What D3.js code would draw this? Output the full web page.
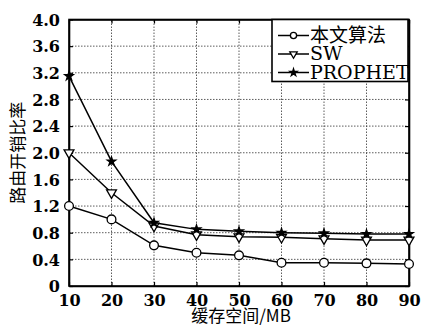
<!DOCTYPE html>
<html>
<head>
<meta charset="utf-8">
<script src="https://cdn.jsdelivr.net/npm/d3@7"></script>
<style>
  body { margin: 0; background: #fff; }
  svg { display: block; }
</style>
</head>
<body>
<svg id="chart"></svg>
<script>
const width = 422;
const height = 327;

// 缓存空间 (MB)
const bufferSizes = [10, 20, 30, 40, 50, 60, 70, 80, 90];
const oursValues = [1.2, 1.0, 0.61, 0.5, 0.46, 0.35, 0.35, 0.34, 0.33];
const swValues = [2.0, 1.4, 0.9, 0.77, 0.74, 0.73, 0.71, 0.69, 0.69];
const prophetValues = [3.15, 1.87, 0.95, 0.85, 0.82, 0.8, 0.79, 0.78, 0.78];
const seriesNames = ["本文算法", "SW", "PROPHET"];
const yTicks = [0, 0.4, 0.8, 1.2, 1.6, 2.0, 2.4, 2.8, 3.2, 3.6, 4.0];

const margin = { top: 19.5, right: 13, bottom: 41, left: 69 };
const serif = "DejaVu Serif";
const cjk = "Noto Sans CJK SC";

const svg = d3.select("#chart").attr("width", width).attr("height", height);

const x = d3.scaleLinear().domain([10, 90]).range([margin.left, width - margin.right]);
const y = d3.scaleLinear().domain([0, 4]).range([height - margin.bottom, margin.top]);

// 网格
svg.append("g")
  .selectAll("line")
  .data(yTicks.slice(1, -1))
  .join("line")
  .attr("x1", x(10)).attr("x2", x(90))
  .attr("y1", (d) => y(d)).attr("y2", (d) => y(d))
  .attr("stroke", "#333").attr("stroke-width", 0.8).attr("stroke-dasharray", "1.5,1.5");

svg.append("g")
  .selectAll("line")
  .data(bufferSizes.slice(1, -1))
  .join("line")
  .attr("x1", (d) => x(d)).attr("x2", (d) => x(d))
  .attr("y1", y(0)).attr("y2", y(4))
  .attr("stroke", "#333").attr("stroke-width", 0.8).attr("stroke-dasharray", "1.5,1.5");

// 坐标轴
const xAxis = svg.append("g")
  .attr("transform", `translate(0,${y(0)})`)
  .call(d3.axisBottom(x).tickValues(bufferSizes).tickSizeInner(-4).tickSizeOuter(0));
xAxis.selectAll("text")
  .attr("y", 19.5).attr("dy", null)
  .style("font-family", serif).style("font-size", "16px").style("font-weight", "bold")
  .attr("fill", "#000");

const yAxis = svg.append("g")
  .attr("transform", `translate(${margin.left},0)`)
  .call(d3.axisLeft(y).tickValues(yTicks).tickFormat((d) => (d === 0 ? "0" : d3.format(".1f")(d))).tickSizeInner(-4).tickSizeOuter(0));
yAxis.selectAll("text")
  .attr("x", -9).attr("dy", "0.36em")
  .style("font-family", serif).style("font-size", "16px").style("font-weight", "bold")
  .attr("fill", "#000");

svg.append("g")
  .attr("transform", `translate(${x(90)},0)`)
  .call(d3.axisRight(y).tickValues(yTicks).tickSizeInner(-4).tickSizeOuter(0).tickFormat(""));
svg.append("g")
  .attr("transform", `translate(0,${y(4)})`)
  .call(d3.axisTop(x).tickValues(bufferSizes).tickSizeInner(-4).tickSizeOuter(0).tickFormat(""));

svg.selectAll(".domain").attr("stroke", "#000").attr("stroke-width", 1.6);
svg.selectAll(".tick line").attr("stroke", "#000").attr("stroke-width", 1.2);

// 框
svg.append("rect")
  .attr("x", x(10)).attr("y", y(4))
  .attr("width", x(90) - x(10)).attr("height", y(0) - y(4))
  .attr("fill", "none").attr("stroke", "#000").attr("stroke-width", 1.6);

// 轴标题
svg.append("text")
  .text("缓存空间/MB")
  .attr("x", (x(10) + x(90)) / 2 + 2).attr("y", 322)
  .attr("text-anchor", "middle")
  .style("font-family", cjk).style("font-size", "17px");

svg.append("text")
  .text("路由开销比率")
  .attr("transform", `translate(24,${(y(0) + y(4)) / 2}) rotate(-90)`)
  .attr("text-anchor", "middle")
  .style("font-family", cjk).style("font-size", "17px");

// 折线
const line = d3.line().x((d, i) => x(bufferSizes[i])).y((d) => y(d));
const allSeries = [oursValues, swValues, prophetValues];

svg.append("g")
  .selectAll("path")
  .data(allSeries)
  .join("path")
  .attr("d", line)
  .attr("fill", "none").attr("stroke", "#000").attr("stroke-width", 1.5);

const circleSym = d3.symbol().type(d3.symbolCircle).size(60);
const triSym = d3.symbol().type(d3.symbolTriangle).size(42);
const starSym = d3.symbol().type(d3.symbolStar).size(22);

function drawMarkers(values, sym, fill, rot) {
  svg.append("g")
    .selectAll("path")
    .data(values)
    .join("path")
    .attr("d", sym)
    .attr("transform", (d, i) => `translate(${x(bufferSizes[i])},${y(d)}) rotate(${rot})`)
    .attr("fill", fill).attr("stroke", "#000").attr("stroke-width", 1.3);
}
drawMarkers(oursValues, circleSym, "#fff", 0);
drawMarkers(swValues, triSym, "#fff", 180);
drawMarkers(prophetValues, starSym, "#000", 0);

// 图例
const legend = svg.append("g");
legend.append("rect")
  .attr("x", 272).attr("y", 19.5).attr("width", 136).attr("height", 62)
  .attr("fill", "#fff").attr("stroke", "#000").attr("stroke-width", 1.6);

const legendSyms = [
  [d3.symbol().type(d3.symbolCircle).size(30), "#fff", 0],
  [d3.symbol().type(d3.symbolTriangle).size(24), "#fff", 180],
  [d3.symbol().type(d3.symbolStar).size(16), "#000", 0]
];
const rowY = [35.5, 54, 72.5];
seriesNames.forEach((name, i) => {
  legend.append("line")
    .attr("x1", 278).attr("x2", 309).attr("y1", rowY[i]).attr("y2", rowY[i])
    .attr("stroke", "#000").attr("stroke-width", 1.5);
  legend.append("path")
    .attr("d", legendSyms[i][0])
    .attr("transform", `translate(293.5,${rowY[i]}) rotate(${legendSyms[i][2]})`)
    .attr("fill", legendSyms[i][1]).attr("stroke", "#000").attr("stroke-width", 1.3);
  legend.append("text")
    .text(name)
    .attr("x", 310).attr("y", rowY[i] + 6)
    .style("font-family", i === 0 ? cjk : serif)
    .style("font-size", "19px");
});
</script>
</body>
</html>
